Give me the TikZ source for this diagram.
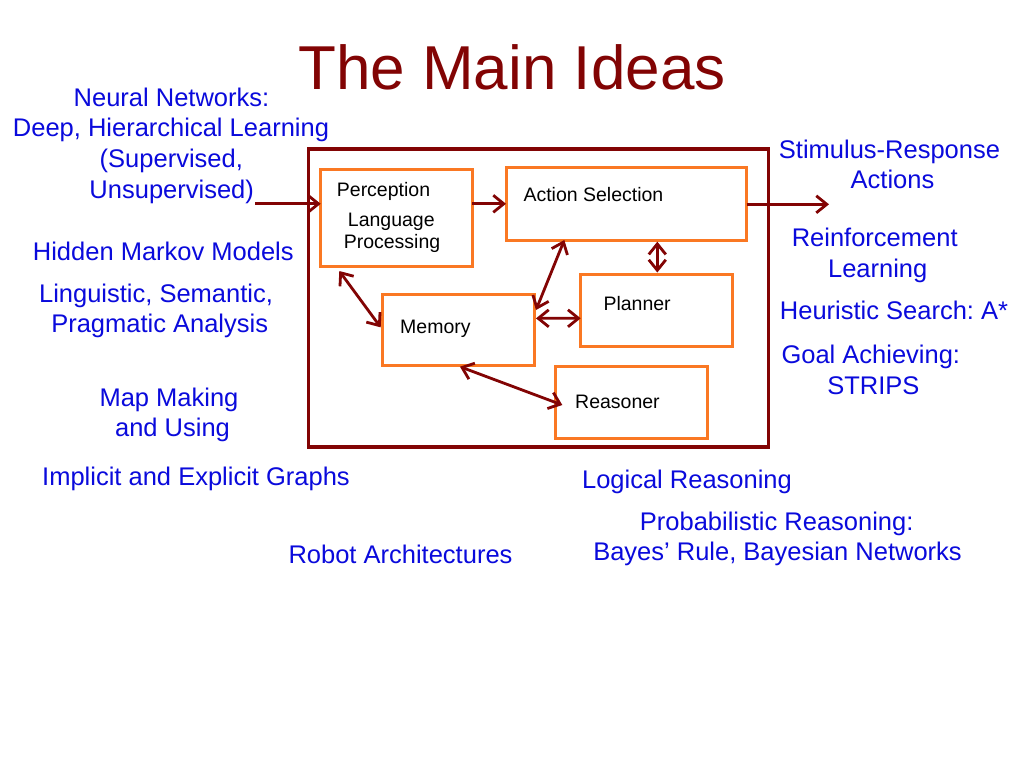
\documentclass[tikz,border=0pt]{standalone}
\usepackage{fontspec}
\setmainfont{Liberation Sans}
\usetikzlibrary{arrows.meta,calc}
\definecolor{dkred}{RGB}{130,4,4}
\definecolor{boxorange}{RGB}{250,120,35}
\definecolor{txtblue}{RGB}{10,10,220}
\frenchspacing
\begin{document}
\begin{tikzpicture}[x=1pt,y=-1pt,
  obox/.style={draw=boxorange,line width=3pt,inner sep=0pt,outer sep=0pt,anchor=north west,fill=white},
  btext/.style={anchor=base west,inner sep=0pt,font=\fontsize{19.5}{23}\selectfont,text=black},
  bctext/.style={anchor=base,inner sep=0pt,font=\fontsize{19.5}{23}\selectfont,text=black},
  blue/.style={anchor=base,inner sep=0pt,font=\fontsize{25.5}{30}\selectfont,text=txtblue},
  tipb/.tip={Straight Barb[length=10.5pt,width=17pt]},
  arr/.style={draw=dkred,line width=2.8pt,-tipb},
  darr/.style={draw=dkred,line width=2.8pt,tipb-tipb}]
\useasboundingbox[fill=white] (0,0) rectangle (1024,768);

% title
\node[anchor=base,inner sep=0pt,font=\fontsize{62}{70}\selectfont,text=dkred] (title) at (512,89.5) {The Main Ideas};

% outer frame
\node[draw=dkred,line width=3.3pt,inner sep=0pt,anchor=north west,minimum width=460pt,minimum height=298pt] (frame) at (306.7,147.3) {};

% boxes
\node[obox,minimum width=151.6pt,minimum height=97.7pt] (perc) at (320.7,169) {};
\node[obox,minimum width=240.7pt,minimum height=72.3pt] (act) at (506,167.7) {};
\node[obox,minimum width=151.6pt,minimum height=72pt] (plan) at (580.7,274) {};
\node[obox,minimum width=151.7pt,minimum height=71.7pt] (mem) at (382.3,294) {};
\node[obox,minimum width=151.6pt,minimum height=71.6pt] (reas) at (555.7,366.7) {};

% box texts
\node[btext] (tperc) at (336.7,196.7) {Perception};
\node[bctext] (tlang) at (391.3,226) {Language};
\node[bctext] (tproc) at (392,248.7) {Processing};
\node[btext] (tact) at (523.3,201) {Action Selection};
\node[btext] (tplan) at (603.3,310.7) {Planner};
\node[btext] (tmem) at (400,333.3) {Memory};
\node[btext] (treas) at (575,408.3) {Reasoner};

% connectors
\coordinate (inpt) at (255,203.8);
\coordinate (outp) at (829,204.3);
\draw[arr] (inpt) -- (inpt -| perc.west);
\draw[arr] (perc.east |- inpt) -- (act.west |- inpt);
\draw[arr] (act.east |- outp) -- (outp);
\draw[darr] ($(perc.south west)+(18.6,4.3)$) -- ($(mem.west)+(-1.6,-2.5)$);
\draw[darr] ($(mem.north east)+(2,16)$) -- ($(act.south west)+(58.3,0)$);
\draw[darr] ($(mem.east)+(2,-11.5)$) -- ($(plan.west)+(0,8.3)$);
\draw[darr] ($(plan.north)+(0.8,-1.5)$) -- ($(plan.north)+(0.8,-32.3)$);
\draw[darr] ($(mem.south)+(1.8,1)$) -- ($(reas.west)+(6.6,2.5)$);

% blue labels, left
\node[blue] (nn1) at (171.5,106) {Neural Networks:};
\node[blue] (nn2) at (171,136) {Deep, Hierarchical Learning};
\node[blue] (nn3) at (171.3,167) {(Supervised,};
\node[blue] (nn4) at (171.7,198) {Unsupervised)};
\node[blue] (hmm) at (163.3,260) {Hidden Markov Models};
\node[blue] (lin1) at (156,302) {Linguistic, Semantic,};
\node[blue] (lin2) at (159.7,332) {Pragmatic Analysis};
\node[blue] (map1) at (169,406) {Map Making};
\node[blue] (map2) at (172.5,436) {and Using};
\node[blue] (graphs) at (196,485.5) {Implicit and Explicit Graphs};
\node[blue] (robot) at (400.5,563) {Robot Architectures};

% blue labels, right
\node[blue] (sr1) at (889.5,158.3) {Stimulus-Response};
\node[blue] (sr2) at (892.5,188.3) {Actions};
\node[blue] (rl1) at (874.7,246.5) {Reinforcement};
\node[blue] (rl2) at (877.7,277) {Learning};
\node[blue] (hs) at (894,319) {Heuristic Search: A*};
\node[blue] (ga1) at (870.8,363.5) {Goal Achieving:};
\node[blue] (ga2) at (873.3,394.5) {STRIPS};
\node[blue] (logr) at (687,488.3) {Logical Reasoning};
\node[blue] (pr1) at (776.7,530) {Probabilistic Reasoning:};
\node[blue] (pr2) at (777.5,560) {Bayes’ Rule, Bayesian Networks};
\end{tikzpicture}
\end{document}
